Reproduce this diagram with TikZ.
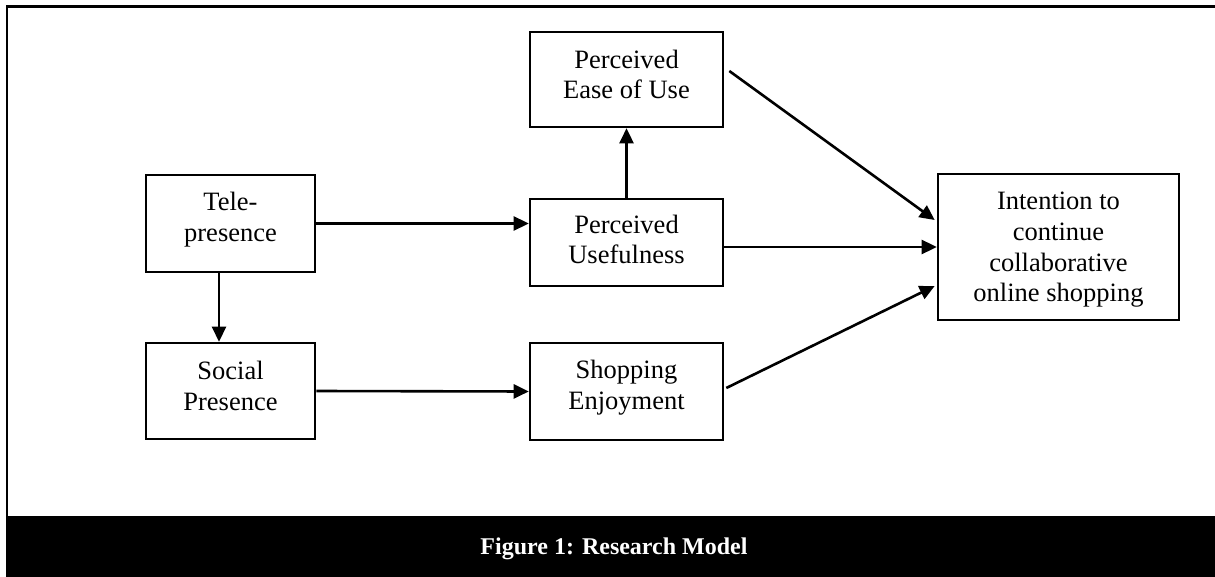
\documentclass[tikz,border=0pt]{standalone}
\usepackage{fontspec}
\setmainfont{Liberation Serif}
\usetikzlibrary{arrows.meta}
\begin{document}
\begin{tikzpicture}[x=1pt,y=-1pt,
  box/.style={draw=black,line width=2.6pt,inner sep=0pt},
  txt/.style={align=center,inner sep=0pt,font=\fontsize{26.5}{30.7}\selectfont},
  conn/.style={line width=2.6pt,-{Triangle[length=15pt,width=14pt]}}]
\useasboundingbox (0,0) rectangle (1215,577);
% frame
\draw[line width=2.8pt] (7,516) -- (7,6.5) -- (1215,6.5);
\fill[black] (5.6,516) rectangle (1215,577);
\node[text=white,font=\fontsize{24}{28}\bfseries\selectfont] (cap) at (614,549) {Figure 1: Research Model};
% boxes
\node[box,minimum width=169pt,minimum height=97pt] (tele) at (230.5,223.5) {};
\node[box,minimum width=169pt,minimum height=96pt] (social) at (230.5,391) {};
\node[box,minimum width=193pt,minimum height=95pt] (peou) at (626.5,79.5) {};
\node[box,minimum width=193pt,minimum height=87pt] (pu) at (626.5,242.5) {};
\node[box,minimum width=193pt,minimum height=97pt] (se) at (626.5,391.5) {};
\node[box,minimum width=241pt,minimum height=146pt] (int) at (1058.5,247) {};
% texts
\node[txt] (tele-t) at ([yshift=4pt]tele.center) {Tele-\\presence};
\node[txt] (social-t) at ([yshift=5pt]social.center) {Social\\Presence};
\node[txt] (peou-t) at ([yshift=5pt]peou.center) {Perceived\\Ease of Use};
\node[txt] (pu-t) at ([yshift=3pt]pu.center) {Perceived\\Usefulness};
\node[txt] (se-t) at ([yshift=4pt]se.center) {Shopping\\Enjoyment};
\node[txt] (int-t) at ([yshift=-3pt]int.center) {Intention to\\continue\\collaborative\\online shopping};
% connectors
\draw[conn] (tele.east) -- (tele.east -| pu.west);
\draw[conn] ([xshift=-11.5pt]tele.south) -- ([xshift=-11.5pt]social.north);
\draw[conn] (social.east) -- (se.west);
\draw[conn] (pu.north) -- (peou.south);
\draw[conn] ([xshift=5pt,yshift=8.5pt]peou.east) -- ([xshift=-2pt,yshift=27pt]int.west);
\draw[conn] (pu.east |- int.west) -- (int.west);
\draw[conn] ([xshift=2pt,yshift=3.5pt]se.east) -- ([xshift=-2pt,yshift=-39pt]int.west);
\end{tikzpicture}
\end{document}
